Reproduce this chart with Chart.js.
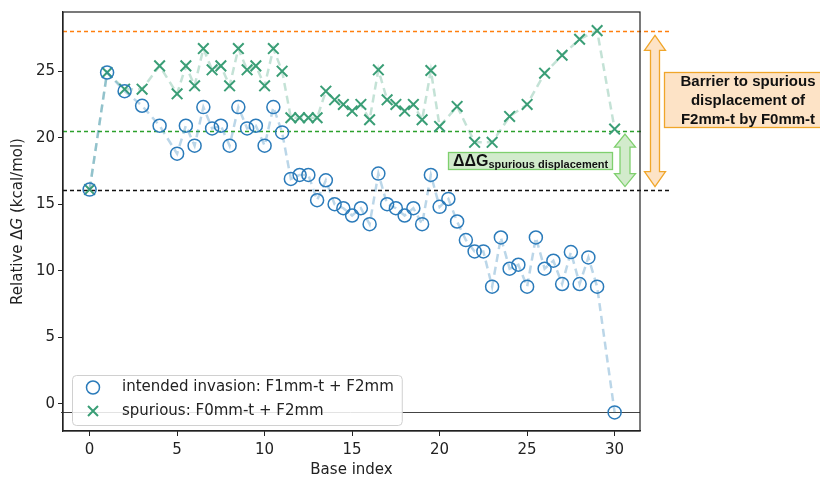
<!DOCTYPE html>
<html>
<head>
<meta charset="utf-8">
<script src="https://cdn.jsdelivr.net/npm/chart.js@4/dist/chart.umd.min.js"></script>
<style>
  html, body { margin: 0; padding: 0; background: #fff; }
  #wrap { width: 820px; height: 480px; }
</style>
</head>
<body>
<div id="wrap"><canvas id="myChart" width="820" height="480"></canvas></div>
<script>
// Data
const intendedX = [0, 1, 2, 3, 4, 5, 5.5, 6, 6.5, 7, 7.5, 8, 8.5, 9, 9.5, 10, 10.5, 11, 11.5, 12, 12.5, 13, 13.5, 14, 14.5, 15, 15.5, 16, 16.5, 17, 17.5, 18, 18.5, 19, 19.5, 20, 20.5, 21, 21.5, 22, 22.5, 23, 23.5, 24, 24.5, 25, 25.5, 26, 26.5, 27, 27.5, 28, 28.5, 29, 30];
const intendedY = [16.1, 24.9, 23.5, 22.4, 20.9, 18.8, 20.9, 19.4, 22.3, 20.7, 20.9, 19.4, 22.3, 20.7, 20.9, 19.4, 22.3, 20.4, 16.9, 17.2, 17.2, 15.3, 16.8, 15.0, 14.7, 14.15, 14.7, 13.5, 17.3, 15.0, 14.7, 14.15, 14.7, 13.5, 17.2, 14.8, 15.4, 13.7, 12.3, 11.45, 11.45, 8.8, 12.5, 10.15, 10.45, 8.8, 12.5, 10.15, 10.75, 9.0, 11.4, 9.0, 11.0, 8.8, -0.65];

const spuriousX = [0, 1, 2, 3, 4, 5, 5.5, 6, 6.5, 7, 7.5, 8, 8.5, 9, 9.5, 10, 10.5, 11, 11.5, 12, 12.5, 13, 13.5, 14, 14.5, 15, 15.5, 16, 16.5, 17, 17.5, 18, 18.5, 19, 19.5, 20, 21, 22, 23, 24, 25, 26, 27, 28, 29, 30];
const spuriousY = [16.1, 24.9, 23.65, 23.65, 25.4, 23.3, 25.4, 23.9, 26.7, 25.1, 25.4, 23.9, 26.7, 25.1, 25.4, 23.9, 26.7, 25.0, 21.5, 21.5, 21.5, 21.5, 23.5, 22.85, 22.5, 22.0, 22.5, 21.35, 25.1, 22.85, 22.5, 22.0, 22.5, 21.35, 25.05, 20.85, 22.35, 19.65, 19.65, 21.6, 22.5, 24.85, 26.2, 27.4, 28.05, 20.65];

const seriesLabels = ['intended invasion: F1mm-t + F2mm', 'spurious: F0mm-t + F2mm'];
const xTickValues = [0, 5, 10, 15, 20, 25, 30];
const yTickValues = [0, 5, 10, 15, 20, 25];

// reference levels (kcal/mol)
const barrierLevel = 28.0;
const spuriousLevel = 20.5;
const startLevel = 16.1;
const finalLevel = -0.62;

const FONT = 'DejaVu Sans';
const BOLD = 'Liberation Sans';
const FS = 15;

const toPoints = (xs, ys) => xs.map((x, i) => ({ x: x, y: ys[i] }));

function doubleArrow(ctx, x, y1, y2, headW, headH, shaftW, fill, stroke) {
  ctx.save();
  ctx.beginPath();
  ctx.moveTo(x, y1);
  ctx.lineTo(x + headW / 2, y1 + headH);
  ctx.lineTo(x + shaftW / 2, y1 + headH);
  ctx.lineTo(x + shaftW / 2, y2 - headH);
  ctx.lineTo(x + headW / 2, y2 - headH);
  ctx.lineTo(x, y2);
  ctx.lineTo(x - headW / 2, y2 - headH);
  ctx.lineTo(x - shaftW / 2, y2 - headH);
  ctx.lineTo(x - shaftW / 2, y1 + headH);
  ctx.lineTo(x - headW / 2, y1 + headH);
  ctx.closePath();
  ctx.fillStyle = fill;
  ctx.fill();
  ctx.strokeStyle = stroke;
  ctx.lineWidth = 1.3;
  ctx.stroke();
  ctx.restore();
}

const extras = {
  id: 'extras',
  beforeDatasetsDraw(chart) {
    const { ctx, chartArea: a, scales: { y } } = chart;
    ctx.save();
    const dashed = [[barrierLevel, '#ff7f0e', 670], [spuriousLevel, '#2ca02c', 643], [startLevel, '#111', 670]];
    dashed.forEach(([v, c, right]) => {
      const py = Math.round(y.getPixelForValue(v)) + 0.5;
      ctx.strokeStyle = c;
      ctx.lineWidth = 1.3;
      ctx.setLineDash([4, 3]);
      ctx.beginPath();
      ctx.moveTo(a.left, py);
      ctx.lineTo(right, py);
      ctx.stroke();
    });
    ctx.setLineDash([]);
    const pf = Math.round(y.getPixelForValue(finalLevel)) + 0.5;
    ctx.strokeStyle = '#444';
    ctx.lineWidth = 1;
    ctx.beginPath();
    ctx.moveTo(a.left - 2, pf);
    ctx.lineTo(a.right, pf);
    ctx.stroke();
    ctx.restore();
  },
  afterDatasetsDraw(chart) {
    const { ctx, chartArea: a, scales: { y } } = chart;
    ctx.save();
    // frame
    ctx.strokeStyle = '#222';
    ctx.lineWidth = 1.2;
    ctx.strokeRect(a.left, a.top, a.right - a.left, a.bottom - a.top);

    const yBar = y.getPixelForValue(barrierLevel);
    const ySp = y.getPixelForValue(spuriousLevel);
    const ySt = y.getPixelForValue(startLevel);

    // orange barrier arrow + label
    doubleArrow(ctx, 655, yBar + 4, ySt - 3, 21, 15, 9, '#fde3c6', '#f0a62a');
    ctx.fillStyle = '#fde3c6';
    ctx.fillRect(664, 72, 170, 56);
    ctx.strokeStyle = '#f0a62a';
    ctx.lineWidth = 1.3;
    ctx.strokeRect(664.5, 72.5, 170, 55);
    ctx.fillStyle = '#111';
    ctx.font = 'bold 15px "' + BOLD + '"';
    ctx.textAlign = 'center';
    ctx.textBaseline = 'middle';
    ['Barrier to spurious', 'displacement of', 'F2mm-t by F0mm-t'].forEach((t, i) => {
      ctx.fillText(t, 748, 82 + i * 18.7);
    });

    // green delta-delta-G arrow + label
    doubleArrow(ctx, 625, ySp + 3, ySt - 3, 21, 13, 10, '#d2ebcc', '#7fd06e');
    ctx.fillStyle = '#d2ebcc';
    ctx.fillRect(448, 152, 164, 17);
    ctx.strokeStyle = '#7fd06e';
    ctx.strokeRect(448.5, 152.5, 164, 17);
    ctx.fillStyle = '#111';
    ctx.textAlign = 'left';
    ctx.textBaseline = 'alphabetic';
    ctx.font = 'bold 16px "' + BOLD + '"';
    ctx.fillText('ΔΔG', 453, 165.5);
    const w = ctx.measureText('ΔΔG').width;
    ctx.font = 'bold 11px "' + BOLD + '"';
    ctx.fillText('spurious displacement', 453 + w, 168);

    // legend
    ctx.font = FS + 'px "' + FONT + '"';
    const lw = Math.max(...chart.data.datasets.map(d => ctx.measureText(d.label).width));
    ctx.fillStyle = 'rgba(255,255,255,0.85)';
    ctx.strokeStyle = '#d0d0d0';
    ctx.lineWidth = 1;
    ctx.beginPath();
    ctx.roundRect(72.5, 375.5, lw + 58, 50, 4);
    ctx.fill();
    ctx.stroke();
    ctx.textBaseline = 'middle';
    chart.data.datasets.forEach((ds, i) => {
      const cy = 387.5 + i * 23.5;
      ctx.strokeStyle = ds.borderColor;
      ctx.lineWidth = ds.pointBorderWidth;
      ctx.beginPath();
      if (i === 0) {
        ctx.arc(93, cy, 6.5, 0, Math.PI * 2);
      } else {
        ctx.moveTo(88, cy - 5); ctx.lineTo(98, cy + 5);
        ctx.moveTo(98, cy - 5); ctx.lineTo(88, cy + 5);
      }
      ctx.stroke();
      ctx.fillStyle = '#222';
      ctx.fillText(ds.label, 122, cy);
    });

    // y axis title with italic G
    ctx.save();
    ctx.translate(18, (a.top + a.bottom) / 2);
    ctx.rotate(-Math.PI / 2);
    const parts = [['Relative Δ', FS + 'px "' + FONT + '"'], ['G', 'italic ' + FS + 'px "' + FONT + '"'], [' (kcal/mol)', FS + 'px "' + FONT + '"']];
    let total = 0;
    parts.forEach(p => { ctx.font = p[1]; total += ctx.measureText(p[0]).width; });
    let xx = -total / 2;
    ctx.textAlign = 'left';
    ctx.textBaseline = 'middle';
    ctx.fillStyle = '#222';
    parts.forEach(p => { ctx.font = p[1]; ctx.fillText(p[0], xx, 0); xx += ctx.measureText(p[0]).width; });
    ctx.restore();

    ctx.restore();
  }
};

const config = {
  type: 'scatter',
  data: {
    datasets: [{
      label: seriesLabels[0],
      data: toPoints(intendedX, intendedY),
      showLine: true,
      borderColor: '#2b7bba',
      pointBorderColor: '#2b7bba',
      pointBackgroundColor: 'rgba(0,0,0,0)',
      pointStyle: 'circle',
      pointRadius: 6.5,
      pointBorderWidth: 1.5,
      segment: { borderColor: 'rgba(31,119,180,0.3)' },
      borderWidth: 2.5,
      borderDash: [8, 5]
    }, {
      label: seriesLabels[1],
      data: toPoints(spuriousX, spuriousY),
      showLine: true,
      borderColor: '#3a9e76',
      pointBorderColor: '#3a9e76',
      pointStyle: 'crossRot',
      pointRadius: 7.5,
      pointBorderWidth: 2,
      segment: { borderColor: 'rgba(58,158,118,0.3)' },
      borderWidth: 2.5,
      borderDash: [8, 5]
    }]
  },
  options: {
    responsive: false,
    animation: false,
    layout: { padding: { top: 11, right: 180, left: 0, bottom: 0 } },
    plugins: { legend: { display: false }, tooltip: { enabled: false } },
    scales: {
      x: {
        type: 'linear',
        min: -1.52,
        max: 31.45,
        afterBuildTicks: s => { s.ticks = xTickValues.map(v => ({ value: v })); },
        afterFit: s => { s.height = 49; },
        grid: { drawOnChartArea: false, tickLength: 5, color: '#222' },
        border: { color: '#222', width: 1.2 },
        ticks: { font: { family: FONT, size: FS }, color: '#222', padding: 5, maxRotation: 0 },
        title: { display: true, text: 'Base index', font: { family: FONT, size: FS }, color: '#222', padding: { top: 0, bottom: 1 } }
      },
      y: {
        min: -2.05,
        max: 29.45,
        afterBuildTicks: s => { s.ticks = yTickValues.map(v => ({ value: v })); },
        afterFit: s => { s.width = 63; },
        grid: { drawOnChartArea: false, tickLength: 5, color: '#222' },
        border: { color: '#222', width: 1.2 },
        ticks: { font: { family: FONT, size: FS }, color: '#222', padding: 3 }
      }
    }
  },
  plugins: [extras]
};

const myChart = new Chart(document.getElementById('myChart'), config);
</script>
</body>
</html>
